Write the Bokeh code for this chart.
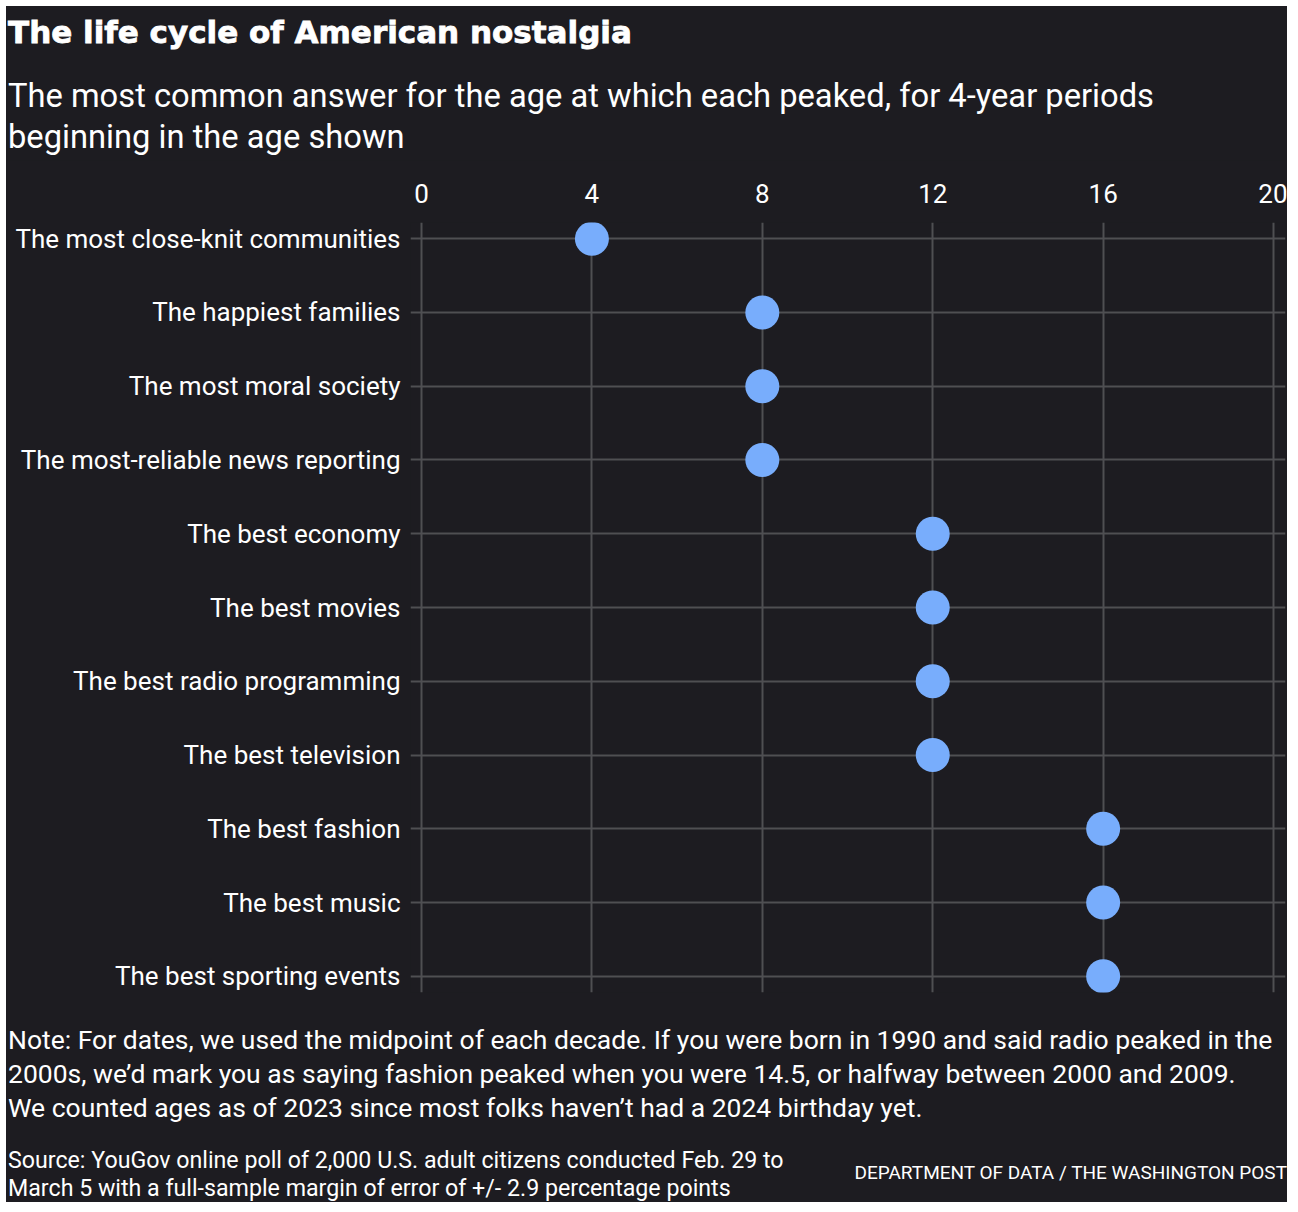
from bokeh.plotting import figure
from bokeh.models import FactorRange, Range1d, FixedTicker, Div
from bokeh.layouts import column
from bokeh.embed import file_html
from bokeh.resources import INLINE

categories = [
    "The most close-knit communities",
    "The happiest families",
    "The most moral society",
    "The most-reliable news reporting",
    "The best economy",
    "The best movies",
    "The best radio programming",
    "The best television",
    "The best fashion",
    "The best music",
    "The best sporting events",
]
ages = [4, 8, 8, 8, 12, 12, 12, 12, 16, 16, 16]
x_ticks = [0, 4, 8, 12, 16, 20]

title_text = "The life cycle of American nostalgia"
subtitle_lines = [
    "The most common answer for the age at which each peaked, for 4-year periods",
    "beginning in the age shown",
]
note_lines = [
    "Note: For dates, we used the midpoint of each decade. If you were born in 1990 and said radio peaked in the",
    "2000s, we\u2019d mark you as saying fashion peaked when you were 14.5, or halfway between 2000 and 2009.",
    "We counted ages as of 2023 since most folks haven\u2019t had a 2024 birthday yet.",
]
source_lines = [
    "Source: YouGov online poll of 2,000 U.S. adult citizens conducted Feb. 29 to",
    "March 5 with a full-sample margin of error of +/- 2.9 percentage points",
]
credit_text = "DEPARTMENT OF DATA / THE WASHINGTON POST"

BG = "#1d1c21"
GRID = "#4f4f52"
DOT = "#78adfc"
TXT = "#ffffff"
FONT = "Roboto"

W = 1281
HEAD_H, FIG_H, FOOT_H = 154, 850, 192

header_html = (
    f'<div style="position:relative;width:{W}px;height:{HEAD_H}px;color:{TXT};font-family:{FONT};">'
    f'<div style="position:absolute;left:2px;top:6px;font-family:\'DejaVu Sans\';font-size:31px;font-weight:bold;line-height:40px;white-space:nowrap;-webkit-text-stroke:0.8px {TXT};">{title_text}</div>'
    f'<div style="position:absolute;left:2px;top:70px;font-size:32.7px;line-height:41px;white-space:nowrap;">'
    + "<br>".join(subtitle_lines) + "</div></div>"
)
footer_html = (
    f'<div style="position:relative;width:{W}px;height:{FOOT_H}px;color:{TXT};font-family:{FONT};">'
    f'<div style="position:absolute;left:2px;top:13px;font-size:26.5px;line-height:34px;white-space:nowrap;">'
    + "<br>".join(note_lines) + "</div>"
    f'<div style="position:absolute;left:2px;top:136px;font-size:23.2px;line-height:28px;white-space:nowrap;">'
    + "<br>".join(source_lines) + "</div>"
    f'<div style="position:absolute;right:0px;top:151px;font-size:19px;line-height:24px;white-space:nowrap;">{credit_text}</div>'
    "</div>"
)

header = Div(text=header_html, width=W, height=HEAD_H, margin=0,
             styles={"background-color": BG})
footer = Div(text=footer_html, width=W, height=FOOT_H, margin=0,
             styles={"background-color": BG})

p = figure(
    width=W, height=FIG_H, output_backend="svg", toolbar_location=None,
    x_range=Range1d(-0.258, 20.28),
    y_range=FactorRange(factors=list(reversed(categories)),
                        range_padding=-0.28, range_padding_units="absolute"),
    x_axis_location="above",
    min_border_left=404, min_border_right=2, min_border_top=62, min_border_bottom=18,
    background_fill_color=BG, border_fill_color=BG, margin=0,
)
p.outline_line_color = None
p.outline_line_alpha = 0

p.scatter(x=ages, y=categories, size=34, fill_color=DOT, line_color=None)

xa = p.xaxis[0]
xa.ticker = FixedTicker(ticks=x_ticks)
xa.axis_line_color = None
xa.major_tick_line_color = None
xa.minor_tick_line_color = None
xa.major_tick_out = 0
xa.major_tick_in = 0
xa.major_label_text_color = TXT
xa.major_label_text_font = FONT
xa.major_label_text_font_size = "26px"
xa.major_label_standoff = 20

ya = p.yaxis[0]
ya.axis_line_color = None
ya.major_tick_line_color = None
ya.minor_tick_line_color = None
ya.major_tick_out = 0
ya.major_tick_in = 0
ya.major_label_text_color = TXT
ya.major_label_text_font = FONT
ya.major_label_text_font_size = "26px"
ya.major_label_standoff = 10

p.xgrid.grid_line_color = GRID
p.xgrid.grid_line_width = 2
p.ygrid.grid_line_color = GRID
p.ygrid.grid_line_width = 2

layout = column(header, p, footer, spacing=0, margin=(6, 0, 0, 6),
                styles={"background-color": BG})

open("out.html", "w").write(file_html(layout, INLINE))
